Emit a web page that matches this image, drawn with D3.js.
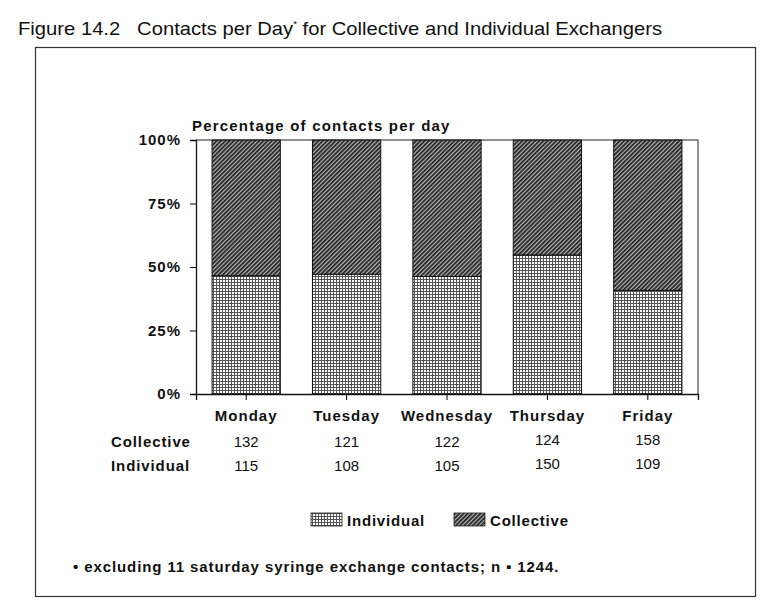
<!DOCTYPE html>
<html><head><meta charset="utf-8">
<script src="https://cdn.jsdelivr.net/npm/d3@7"></script>
<style>body{margin:0;background:#fff}</style>
</head><body>
<svg id="c" width="774" height="610"></svg>
<script>
const days = ["Monday","Tuesday","Wednesday","Thursday","Friday"];
const collective = [132,121,122,124,158];
const individual = [115,108,105,150,109];
const yTicks = [0,0.25,0.5,0.75,1];

const svg = d3.select("#c");
const defs = svg.append("defs");
const pd = defs.append("pattern").attr("id","dots").attr("patternUnits","userSpaceOnUse").attr("width",3).attr("height",3);
pd.append("rect").attr("width",3).attr("height",3).attr("fill","#fff");
pd.append("rect").attr("width",3).attr("height",1).attr("fill","#555");
pd.append("rect").attr("width",1).attr("height",3).attr("fill","#555");
const ph = defs.append("pattern").attr("id","hatch").attr("patternUnits","userSpaceOnUse").attr("width",3).attr("height",3).attr("patternTransform","rotate(45)");
ph.append("rect").attr("width",3).attr("height",3).attr("fill","#bbb");
ph.append("rect").attr("width",1.8).attr("height",3).attr("fill","#222");

const font = "'Liberation Sans', Arial, sans-serif";
// title
svg.append("text").attr("x",18).attr("y",35).attr("font-family",font).attr("font-size",19)
  .attr("fill","#111").attr("textLength",644).attr("lengthAdjust","spacingAndGlyphs")
  .html('Figure 14.2&#160;&#160; Contacts per Day<tspan font-size="9" dy="-8">*</tspan><tspan dy="8"> for Collective and Individual Exchangers</tspan>');
// outer frame
svg.append("rect").attr("x",35.5).attr("y",47.5).attr("width",720).attr("height",549).attr("fill","none").attr("stroke","#333").attr("stroke-width",1.2);

const L=196, R=698, T=140, B=394;
const x = d3.scaleBand().domain(days).range([L,R]).paddingInner(0.32).paddingOuter(0.16);
const y = d3.scaleLinear().domain([0,1]).range([B,T]);

const g = svg.append("g");
days.forEach((d,i)=>{
  const tot = collective[i]+individual[i];
  const p = individual[i]/tot;
  g.append("rect").attr("x",x(d)).attr("y",y(p)).attr("width",x.bandwidth()).attr("height",y(0)-y(p))
    .attr("fill","url(#dots)").attr("stroke","#111").attr("stroke-width",1);
  g.append("rect").attr("x",x(d)).attr("y",y(1)).attr("width",x.bandwidth()).attr("height",y(p)-y(1))
    .attr("fill","url(#hatch)").attr("stroke","#111").attr("stroke-width",1);
});
// plot border top/right
svg.append("path").attr("d",`M${L},${T}H${R}V${B}`).attr("fill","none").attr("stroke","#222").attr("stroke-width",1);

const ya = svg.append("g").attr("transform",`translate(${L},0)`)
  .call(d3.axisLeft(y).tickValues(yTicks).tickFormat(d3.format(".0%")).tickSize(6).tickPadding(9));
ya.select(".domain").attr("stroke","#111").attr("stroke-width",1.3);
ya.selectAll("text").attr("font-family",font).attr("font-weight","bold").attr("font-size",15).attr("fill","#111").attr("letter-spacing","1");
const xa = svg.append("g").attr("transform",`translate(0,${B})`)
  .call(d3.axisBottom(x).tickSize(6).tickPadding(10));
xa.select(".domain").attr("stroke","#111").attr("stroke-width",1.3);
xa.selectAll("text").attr("font-family",font).attr("font-weight","bold").attr("font-size",15).attr("fill","#111").attr("letter-spacing","1");

svg.append("text").attr("x",192).attr("y",131).attr("font-family",font).attr("font-weight","bold")
  .attr("font-size",15).attr("fill","#111").attr("letter-spacing","1.2").text("Percentage of contacts per day");

// count rows
const rows = [["Collective",collective,447],["Individual",individual,471]];
rows.forEach(([lab,vals,yy])=>{
  svg.append("text").attr("x",111).attr("y",yy).attr("font-family",font).attr("font-weight","bold").attr("font-size",15).attr("fill","#111").attr("letter-spacing","0.9").text(lab);
  days.forEach((d,i)=>{
    svg.append("text").attr("x",x(d)+x.bandwidth()/2).attr("y",yy-(i>=3?2:0)).attr("text-anchor","middle")
      .attr("font-family",font).attr("font-size",15).attr("fill","#111").text(vals[i]);
  });
});

// legend
const leg = [["Individual","url(#dots)",311],["Collective","url(#hatch)",454]];
leg.forEach(([lab,f,lx])=>{
  svg.append("rect").attr("x",lx).attr("y",513).attr("width",31).attr("height",13).attr("fill",f).attr("stroke","#222").attr("stroke-width",0.8);
  svg.append("text").attr("x",lx+36).attr("y",526).attr("font-family",font).attr("font-weight","bold").attr("font-size",15).attr("fill","#111").attr("letter-spacing","0.8").text(lab);
});

svg.append("text").attr("x",73).attr("y",572).attr("font-family",font).attr("font-weight","bold").attr("font-size",15).attr("fill","#111").attr("letter-spacing","0.9")
  .text("\u2022 excluding 11 saturday syringe exchange contacts; n \u25AA 1244.");
</script>
</body></html>
